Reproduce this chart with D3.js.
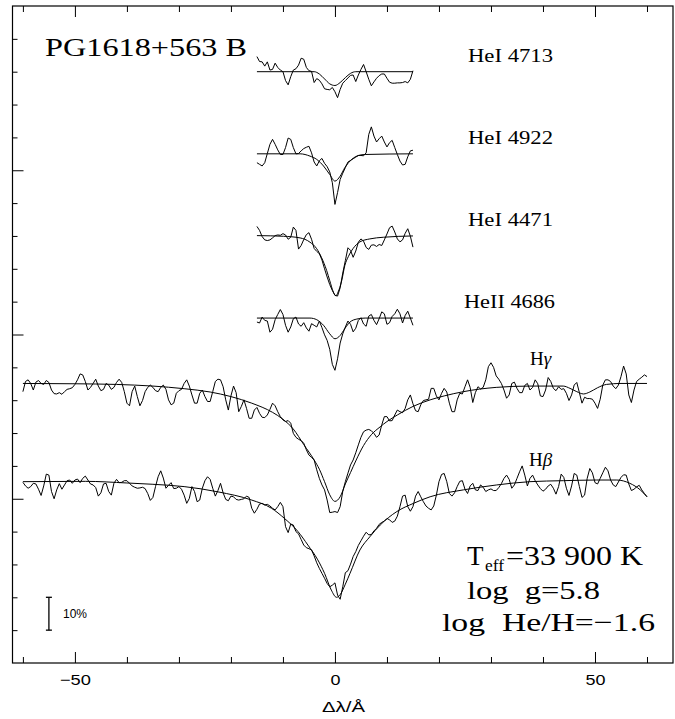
<!DOCTYPE html>
<html><head><meta charset="utf-8">
<script src="https://cdn.jsdelivr.net/npm/d3@7"></script>
<style>
html,body{margin:0;padding:0;background:#fff;}
svg{display:block;}
</style></head><body>
<svg id="chart" width="675" height="719"></svg>
<script>
// ---------------- DATA ----------------
// x tick values (Δλ in Å) and y tick values (relative flux)
const xMinorTicks = [-60,-40,-30,-20,-10,10,20,30,40,60];
const xMajorTicks = [-50,0,50];
const yMinorTicks = [0.1,0.2,0.3,0.4,0.6,0.7,0.8,0.9,1.1,1.2,1.3,1.4,1.6,1.7,1.8,1.9];
const yMajorTicks = [0.5,1.0,1.5];

// line names and vertical offsets (normalised flux + offset)
const lineNames   = ["HeI 4713","HeI 4922","HeI 4471","HeII 4686","Hγ","Hβ"];
const lineOffsets = [0.80, 0.55, 0.30, 0.05, -0.15, -0.45];

// observed spectra, normalised flux sampled every 0.5 Å
// He lines: -15 .. +15 Å ; Balmer lines: -60 .. +60 Å
const he4713Obs = [1.046,1.031,1.030,1.017,1.030,1.005,1.007,1.026,1.013,1.005,
1.000,0.973,0.960,0.985,1.005,1.009,1.020,1.041,1.038,1.013,
1.003,1.001,0.967,0.979,0.974,0.963,0.948,0.946,0.945,0.952,
0.939,0.921,0.946,0.965,0.973,0.981,0.989,0.990,0.970,0.990,
1.007,1.022,1.000,0.977,0.957,0.969,0.980,0.988,0.993,0.993,
0.980,0.968,0.965,0.965,0.966,0.966,0.967,0.970,0.966,0.977,
1.003];
const he4922Obs = [0.973,0.968,0.963,0.973,1.001,1.029,1.044,1.029,1.012,0.998,
0.998,1.019,1.048,1.044,1.019,1.000,1.001,1.009,1.016,1.020,
1.023,1.003,0.975,0.963,0.979,0.986,0.971,0.961,0.945,0.912,
0.846,0.882,0.922,0.941,0.958,0.975,0.980,0.985,0.990,0.995,
0.995,0.994,1.003,1.059,1.082,1.054,1.036,1.046,1.054,1.036,
1.021,1.034,1.041,1.019,0.998,0.978,0.966,0.968,0.991,1.009,
1.011];
const he4471Obs = [1.029,1.017,0.998,0.988,0.986,0.988,0.994,1.001,1.003,1.002,
1.007,1.003,0.990,0.996,1.027,1.017,0.960,0.971,0.989,1.004,
1.010,0.990,0.962,0.953,0.946,0.927,0.900,0.875,0.852,0.834,
0.819,0.817,0.842,0.887,0.925,0.964,0.956,0.935,0.954,0.981,
0.991,0.984,0.965,0.959,0.972,0.973,0.968,0.974,0.971,0.988,
1.006,1.025,1.030,1.012,0.991,0.982,0.988,1.008,1.022,0.999,
0.966];
const he4686Obs = [0.988,0.985,1.003,0.993,0.991,0.957,0.966,0.995,1.011,1.026,
1.011,0.978,0.957,0.973,0.998,1.003,0.982,0.975,0.986,0.970,
0.960,0.983,0.978,0.973,0.991,0.971,0.949,0.932,0.905,0.859,
0.841,0.876,0.924,0.952,0.973,0.991,0.981,0.958,0.969,0.993,
1.001,0.982,0.975,1.006,1.011,0.993,0.980,0.998,1.019,1.013,
0.981,0.986,1.005,1.013,1.027,1.013,0.985,1.008,1.021,1.000,
0.978];
const hgObs = [0.976,1.007,1.012,1.001,0.981,1.005,1.010,1.001,0.998,1.010,
1.004,0.981,0.970,0.969,0.973,0.968,0.976,0.983,0.985,0.988,
0.998,1.012,1.030,1.027,1.007,0.981,0.989,1.001,1.014,0.993,
0.979,0.983,1.001,0.996,0.983,0.989,1.004,1.014,1.004,0.976,
0.941,0.933,0.976,0.993,0.961,0.933,0.949,0.976,0.989,0.996,
0.989,0.979,0.976,0.989,0.996,0.983,0.951,0.936,0.941,0.971,
0.979,0.983,1.001,1.012,0.993,0.966,0.941,0.941,0.971,0.981,
0.961,0.946,0.946,0.976,1.007,1.014,1.012,0.991,0.951,0.920,
0.963,0.993,0.973,0.915,0.931,0.951,0.925,0.895,0.895,0.920,
0.928,0.910,0.898,0.897,0.905,0.922,0.941,0.933,0.915,0.900,
0.890,0.885,0.888,0.880,0.849,0.837,0.831,0.827,0.819,0.799,
0.783,0.776,0.768,0.738,0.712,0.692,0.677,0.646,0.608,0.609,
0.611,
0.608,0.626,0.672,0.702,0.728,0.753,0.768,0.790,0.814,0.837,
0.854,0.859,0.861,0.857,0.849,0.837,0.844,0.875,0.900,0.900,
0.887,0.888,0.905,0.920,0.915,0.912,0.925,0.951,0.966,0.939,
0.918,0.915,0.936,0.949,0.951,0.953,0.986,0.986,0.963,0.951,
0.971,0.986,0.975,0.941,0.915,0.915,0.951,0.971,0.969,0.991,
1.012,0.989,0.943,0.973,0.991,0.984,0.989,1.012,1.052,1.064,
1.050,1.024,1.014,1.001,0.981,0.956,0.966,1.001,1.005,0.986,
0.973,0.973,0.995,1.001,0.981,0.989,1.012,1.000,0.963,0.961,
0.981,1.019,1.007,0.986,0.979,0.991,0.983,0.985,0.971,0.949,
0.966,0.996,1.004,0.973,0.941,0.959,0.955,0.955,0.953,0.941,
0.925,0.953,0.996,1.012,1.012,1.007,0.993,0.985,0.996,1.022,
1.054,1.030,0.966,0.943,0.981,1.007,1.014,1.020,1.027,1.022];
const hbObs = [1.000,0.989,0.982,0.987,0.997,0.995,0.979,0.960,0.989,1.025,
1.022,0.972,0.950,0.977,0.996,0.979,0.992,1.005,1.007,0.997,
1.007,1.010,0.999,1.012,1.019,1.007,0.995,0.992,0.984,0.958,
0.968,0.995,0.997,0.972,0.961,0.997,1.009,0.999,1.000,1.005,
1.005,0.997,0.989,0.985,0.982,0.983,0.985,0.981,0.966,0.945,
0.954,0.987,1.017,1.035,1.013,0.982,0.991,0.999,0.981,0.982,
0.987,0.979,0.961,0.936,0.951,0.987,0.972,0.941,0.946,0.982,
1.005,1.017,1.009,0.982,0.958,0.975,0.997,0.968,0.948,0.944,
0.958,0.956,0.948,0.946,0.948,0.950,0.958,0.954,0.921,0.906,
0.918,0.934,0.936,0.931,0.933,0.928,0.921,0.916,0.926,0.939,
0.926,0.865,0.847,0.873,0.870,0.850,0.843,0.826,0.809,0.801,
0.798,0.794,0.776,0.755,0.738,0.723,0.708,0.692,0.682,0.687,
0.694,
0.657,0.644,0.682,0.725,0.731,0.751,0.774,0.789,0.808,0.822,
0.836,0.848,0.840,0.841,0.852,0.860,0.872,0.878,0.882,0.890,
0.886,0.878,0.882,0.897,0.926,0.958,0.961,0.926,0.912,0.926,
0.958,0.972,0.956,0.941,0.928,0.921,0.916,0.928,0.961,1.002,
1.024,1.027,1.002,0.966,0.958,0.968,0.987,1.003,1.005,0.979,
0.966,0.989,0.997,0.977,0.975,0.992,0.985,0.972,0.977,0.980,
0.975,0.975,0.984,0.996,1.012,1.022,1.009,0.982,0.992,1.012,
1.032,1.050,1.022,0.989,1.012,1.022,1.005,0.992,0.981,0.973,
0.979,0.989,0.994,0.982,0.964,0.987,1.025,1.015,0.982,0.960,
0.989,1.027,1.022,0.987,0.954,0.961,1.012,1.042,1.029,0.999,
0.995,1.012,1.029,1.046,1.035,1.007,0.992,0.987,1.001,1.015,
1.023,1.022,0.995,0.975,0.979,0.986,0.991,0.977,0.966,0.956];

// model (fit) profiles: sample positions (Å) and normalised flux
const he4713ModelX = [-15,-4,-3,-2,-1,0,1,2,3,4,15];
const he4713Model  = [1.000,1.000,0.993,0.978,0.963,0.958,0.967,0.982,0.995,1.000,1.000];
const he4922ModelX = [-15,-6.7,-4.8,-3.5,-2.2,-1,0,1,1.9,2.9,4.2,5.8,15];
const he4922Model  = [1.000,1.000,0.993,0.983,0.963,0.937,0.917,0.932,0.958,0.978,0.993,0.998,1.000];
const he4471ModelX = [-15,-9.9,-6.7,-4.8,-3.5,-2.6,-1.6,-1,-0.3,0.2,0.6,1.3,1.9,2.6,3.5,4.8,6.7,9.3,15];
const he4471Model  = [1.001,0.999,0.994,0.981,0.961,0.935,0.895,0.864,0.829,0.818,0.829,0.864,0.910,0.938,0.962,0.982,0.991,0.996,1.000];
const he4686ModelX = [-15,-4.8,-3.5,-2.2,-1,0,1,1.9,2.9,4.2,5.8,15];
const he4686Model  = [1.000,1.000,0.995,0.978,0.952,0.937,0.947,0.968,0.988,0.997,1.000,1.000];
const hgModelX = [-60,-50,-42,-35,-29,-24,-20,-16,-12,-10,-8,-6,-4,-3,-2,-1,0,1,2,3,
                  4,5.5,7,8.7,10,12,15,18.3,21,24.7,31,37.5,43.9,45.2,46.5,47.8,49,50.5,52.2,55,60];
const hgModel  = [1.001,1.000,0.998,0.993,0.985,0.975,0.961,0.941,0.913,0.892,0.862,0.815,0.768,0.740,0.702,0.662,0.642,0.656,0.695,0.730,
                  0.765,0.812,0.845,0.869,0.885,0.905,0.931,0.951,0.963,0.976,0.989,0.993,0.993,0.986,0.976,0.969,0.975,0.988,0.998,1.001,1.001];
const hbModelX = [-60,-48,-40,-35,-29,-22.5,-16,-12.2,-9.7,-7.1,-5.2,-3.3,-2,-0.7,0.3,1,2,2.9,4.8,6.7,
                  8.7,11.9,15.1,18.3,24.7,31.1,37.5,43.9,50.3,54.2,56.7,58.7,60];
const hbModel  = [1.002,1.003,0.998,0.994,0.987,0.971,0.946,0.921,0.890,0.850,0.809,0.764,0.723,0.672,0.650,0.658,0.690,0.723,0.794,0.834,
                  0.870,0.911,0.936,0.956,0.977,0.992,1.002,1.005,1.007,1.007,0.997,0.977,0.956];

const obsSeries   = [he4713Obs, he4922Obs, he4471Obs, he4686Obs, hgObs, hbObs];
const modelXs     = [he4713ModelX, he4922ModelX, he4471ModelX, he4686ModelX, hgModelX, hbModelX];
const modelSeries = [he4713Model, he4922Model, he4471Model, he4686Model, hgModel, hbModel];
const obsStart = [-15,-15,-15,-15,-60,-60];
const obsStep = 0.5;

// ---------------- DRAWING ----------------
const svg = d3.select("#chart");
const x = d3.scaleLinear().domain([-62, 65]).range([12.5, 673]);
const y = d3.scaleLinear().domain([0, 2]).range([663, 6]);

const serif = "'Liberation Serif','Times New Roman',serif";
const sans = "'Liberation Sans',Arial,sans-serif";

function clean(g){ g.select(".domain").remove(); g.selectAll("line").attr("stroke","#000").attr("stroke-width",1); }

// bottom axis
svg.append("g").attr("transform",`translate(0,${y(0)})`)
  .call(d3.axisBottom(x).tickValues(xMinorTicks).tickSize(-6).tickFormat("")).call(clean);
const bx = svg.append("g").attr("transform",`translate(0,${y(0)})`)
  .call(d3.axisBottom(x).tickValues(xMajorTicks).tickSize(-11).tickPadding(11)).call(clean);
bx.selectAll("text").attr("font-family",sans).attr("font-size",15).attr("fill","#000")
  .each(function(d){ const w = {"-50":31,"0":10,"50":20}[String(d)]; d3.select(this).attr("textLength",w).attr("lengthAdjust","spacingAndGlyphs"); });
// top axis
svg.append("g").attr("transform",`translate(0,${y(2)})`)
  .call(d3.axisTop(x).tickValues(xMinorTicks).tickSize(-6).tickFormat("")).call(clean);
svg.append("g").attr("transform",`translate(0,${y(2)})`)
  .call(d3.axisTop(x).tickValues(xMajorTicks).tickSize(-11).tickFormat("")).call(clean);
// left axis
svg.append("g").attr("transform",`translate(${x(-62)},0)`)
  .call(d3.axisLeft(y).tickValues(yMinorTicks).tickSize(-5).tickFormat("")).call(clean);
svg.append("g").attr("transform",`translate(${x(-62)},0)`)
  .call(d3.axisLeft(y).tickValues(yMajorTicks).tickSize(-11).tickFormat("")).call(clean);

// frame
svg.append("rect").attr("x",x(-62)).attr("y",y(2)).attr("width",x(65)-x(-62)).attr("height",y(0)-y(2))
  .attr("fill","none").attr("stroke","#000").attr("stroke-width",1.2);

// spectra
const obsLine = d3.line().x(d=>x(d[0])).y(d=>y(d[1])).curve(d3.curveLinear);
const smoothLine = d3.line().x(d=>x(d[0])).y(d=>y(d[1])).curve(d3.curveMonotoneX);
obsSeries.forEach((vals,i)=>{
  const off = lineOffsets[i];
  const pts = vals.map((v,k)=>[obsStart[i]+k*obsStep, v+off]);
  svg.append("path").attr("d",obsLine(pts)).attr("fill","none").attr("stroke","#000").attr("stroke-width",1);
  const mpts = modelSeries[i].map((v,k)=>[modelXs[i][k], v+off]);
  svg.append("path").attr("d",smoothLine(mpts)).attr("fill","none").attr("stroke","#000").attr("stroke-width",1);
});

// line labels
const labelPos = [[468,62,85],[468,144,85],[468,226,85],[464,308,91],[530,365,24],[529,466,24]];
lineNames.forEach((name,i)=>{
  const [lx,ly,lw] = labelPos[i];
  const t = svg.append("text").attr("x",lx).attr("y",ly).attr("font-family",serif).attr("font-size",19).attr("fill","#000");
  if (name.startsWith("H") && name.length===2){
    t.append("tspan").text("H");
    t.append("tspan").attr("font-style","italic").text(name[1]);
  } else {
    t.attr("textLength",lw).attr("lengthAdjust","spacingAndGlyphs").text(name);
  }
});

// object name
svg.append("text").attr("x",45).attr("y",56).attr("font-family",serif).attr("font-size",25)
  .attr("textLength",202).attr("lengthAdjust","spacingAndGlyphs").attr("fill","#000").text("PG1618+563 B");

// parameters
function ptext(tx,ty,fs,w,s){
  const t = svg.append("text").attr("x",tx).attr("y",ty).attr("font-family",serif).attr("font-size",fs)
    .attr("fill","#000").style("white-space","pre").text(s);
  if (w) t.attr("textLength",w).attr("lengthAdjust","spacingAndGlyphs");
  return t;
}
ptext(467,565,27,null,"T");
ptext(485,571,16,19,"eff");
ptext(506,565,27,137,"=33 900 K");
ptext(467,598.5,26,133,"log  g=5.8");
ptext(442,630.5,26,213,"log  He/H=\u22121.6");

// 10% scale bar (from flux 0.1 to 0.2)
const sb = svg.append("g").attr("stroke","#000").attr("stroke-width",1.3);
sb.append("line").attr("x1",x(-55)).attr("x2",x(-55)).attr("y1",y(0.1)).attr("y2",y(0.2));
sb.append("line").attr("x1",x(-55)-3).attr("x2",x(-55)+3).attr("y1",y(0.1)).attr("y2",y(0.1));
sb.append("line").attr("x1",x(-55)-3).attr("x2",x(-55)+3).attr("y1",y(0.2)).attr("y2",y(0.2));
svg.append("text").attr("x",63).attr("y",618).attr("font-family",sans).attr("font-size",12).attr("fill","#000").text("10%");

// x-axis title
svg.append("text").attr("x",322).attr("y",712).attr("font-family",sans).attr("font-size",15)
  .attr("textLength",43).attr("lengthAdjust","spacingAndGlyphs").attr("fill","#000").text("Δλ/Å");
</script>
</body></html>
